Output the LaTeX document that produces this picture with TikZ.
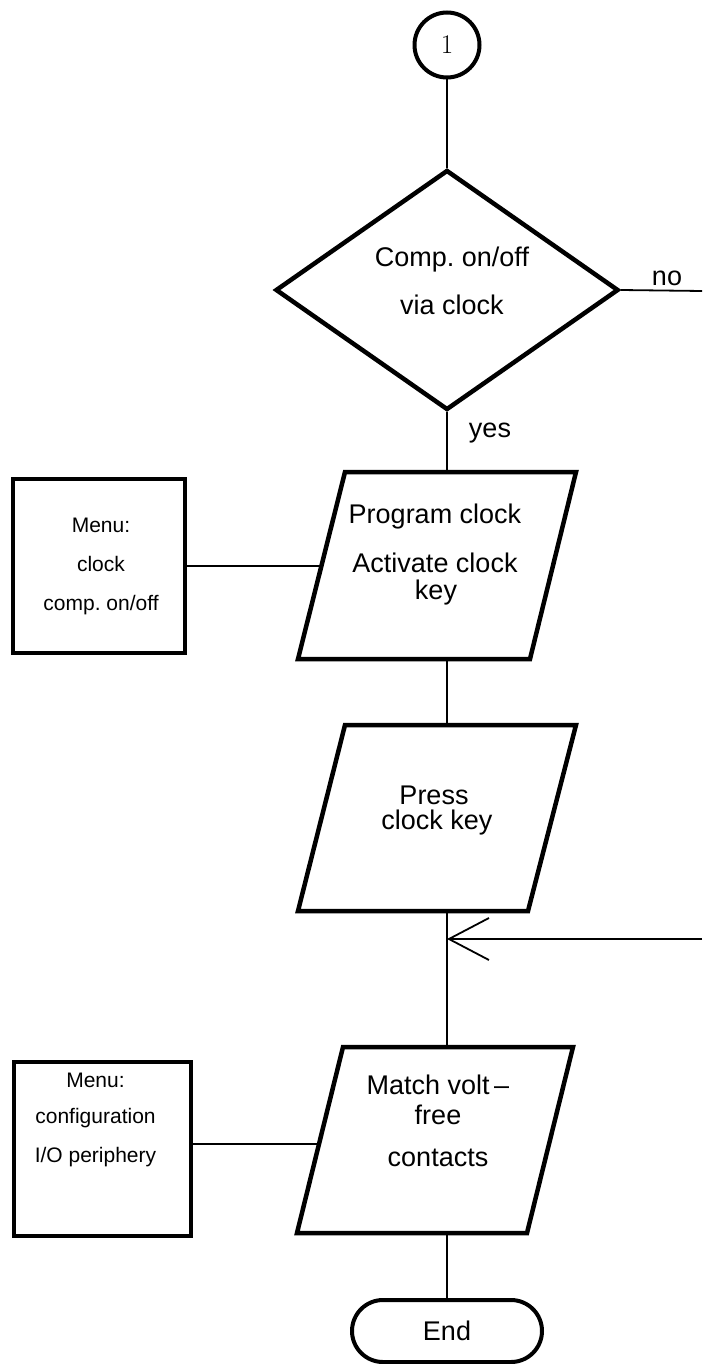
\documentclass[tikz,border=0pt]{standalone}
\usepackage{fontspec}
\newfontfamily\arial{Liberation Sans}
\usetikzlibrary{shapes.geometric,arrows.meta}
\begin{document}
\begin{tikzpicture}[x=1pt,y=-1pt,
 thickline/.style={line width=4.5pt},
 conn/.style={line width=1.8pt},
 txt/.style={font=\arial\fontsize{27}{31}\selectfont, inner sep=0pt},
 small/.style={font=\arial\fontsize{21}{25}\selectfont, inner sep=0pt},
 menubox/.style={draw, thickline, rectangle, inner sep=0pt},
]
\useasboundingbox (0,0) rectangle (702,1364);

% connector start
\node[draw, circle, line width=4pt, minimum size=65pt, inner sep=0pt,
      font=\fontsize{27}{30}\selectfont] (c1) at (447,45) {1};

% decision
\node[draw, diamond, thickline, minimum width=343pt, minimum height=240pt, inner sep=0pt] (d) at (447,290) {};
\node[txt] (d1) at (452,260) {Comp.\ on/off};
\node[txt] (d2) at (452,305) {via clock};

\coordinate (noend) at (702,291);
\node[txt] (no) at (667,278) {no};
\node[txt] (yes) at (490,433) {yes};

% parallelogram 1
\coordinate (p1tl) at (345,472); \coordinate (p1tr) at (576,472);
\coordinate (p1br) at (530,659); \coordinate (p1bl) at (298,659);
\coordinate (p1n) at (447,472); \coordinate (p1s) at (447,659);
\coordinate (p1w) at (321.4,566);
\draw[thickline] (p1tl) -- (p1tr) -- (p1br) -- (p1bl) -- cycle;
\node[txt] (p1a) at (435,517) {Program clock};
\node[txt] (p1b) at (435,563) {Activate clock};
\node[txt] (p1c) at (436,593) {key};

% parallelogram 2
\coordinate (p2tl) at (345,725); \coordinate (p2tr) at (576,725);
\coordinate (p2br) at (528,911); \coordinate (p2bl) at (298,911);
\coordinate (p2n) at (447,725); \coordinate (p2s) at (447,911);
\draw[thickline] (p2tl) -- (p2tr) -- (p2br) -- (p2bl) -- cycle;
\node[txt] (p2a) at (434,795) {Press};
\node[txt] (p2b) at (437,823) {clock key};

% parallelogram 3
\coordinate (p3tl) at (343,1047); \coordinate (p3tr) at (573,1047);
\coordinate (p3br) at (527,1233); \coordinate (p3bl) at (297,1233);
\coordinate (p3n) at (447,1047); \coordinate (p3s) at (447,1233);
\coordinate (p3w) at (319,1144);
\draw[thickline] (p3tl) -- (p3tr) -- (p3br) -- (p3bl) -- cycle;
\node[txt] (p3a) at (438,1085) {Match volt\,–};
\node[txt] (p3b) at (438,1115) {free};
\node[txt] (p3c) at (438,1158) {contacts};

% menu boxes
\node[menubox, minimum width=172pt, minimum height=174pt] (b1) at (99,566) {};
\node[small] (b1a) at (101,525) {Menu:};
\node[small] (b1b) at (101,564) {clock};
\node[small] (b1c) at (101,605) {comp.\ on/off};

\node[menubox, minimum width=177pt, minimum height=174pt] (b3) at (102.5,1149) {};
\node[small] (b3a) at (95.5,1080) {Menu:};
\node[small] (b3b) at (95.5,1118) {configuration};
\node[small] (b3c) at (95.5,1157) {I/O periphery};

% terminal
\node[draw, line width=4pt, rounded corners=31pt, minimum width=190pt, minimum height=62pt,
      inner sep=0pt, txt] (end) at (447,1331) {End};

% connectors
\coordinate (loopin) at (702,939);
\coordinate (join) at (447,939);

\draw[conn] (c1.south) -- (d.north);
\draw[conn] (d.east) -- (noend);
\draw[conn] (d.south) -- (p1n);
\draw[conn] (b1.east) -- (p1w);
\draw[conn] (p1s) -- (p2n);
\draw[conn] (p2s) -- (p3n);
\draw[conn, -{Straight Barb[length=40pt, width=42pt]}] (loopin) -- (join);
\draw[conn] (p3w -| b3.east) -- (p3w);
\draw[conn] (p3s) -- (end.north);
\end{tikzpicture}
\end{document}
